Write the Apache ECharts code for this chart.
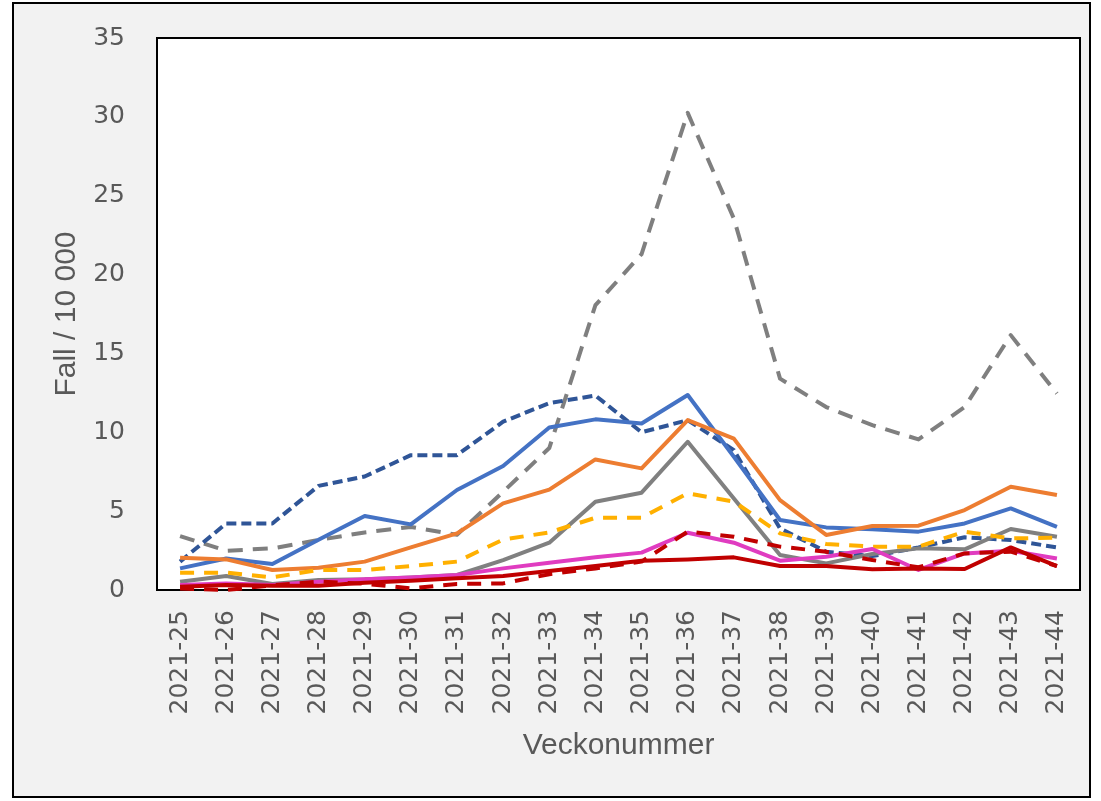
<!DOCTYPE html>
<html>
<head>
<meta charset="utf-8">
<script src="https://cdn.jsdelivr.net/npm/echarts@6/dist/echarts.min.js"></script>
<style>
html,body{margin:0;padding:0;background:#fff;}
#chart{width:1101px;height:801px;}
</style>
</head>
<body>
<div id="chart"></div>
<script>
const weeks = ['2021-25','2021-26','2021-27','2021-28','2021-29','2021-30','2021-31','2021-32','2021-33','2021-34','2021-35','2021-36','2021-37','2021-38','2021-39','2021-40','2021-41','2021-42','2021-43','2021-44'];
const yTicks = {min: 0, max: 35, interval: 5};

const blueSolid    = [1.37, 2.0, 1.65, 3.19, 4.69, 4.16, 6.34, 7.86, 10.3, 10.82, 10.56, 12.36, 8.45, 4.44, 3.97, 3.85, 3.7, 4.22, 5.17, 4.0];
const orangeSolid  = [2.05, 1.94, 1.27, 1.41, 1.8, 2.7, 3.59, 5.49, 6.36, 8.28, 7.71, 10.77, 9.6, 5.7, 3.49, 4.06, 4.08, 5.07, 6.55, 6.02];
const graySolid    = [0.53, 0.89, 0.38, 0.63, 0.68, 0.8, 0.95, 1.9, 3.0, 5.6, 6.17, 9.4, 5.8, 2.22, 1.69, 2.28, 2.64, 2.58, 3.87, 3.38];
const yellowDashed = [1.1, 1.1, 0.8, 1.27, 1.27, 1.52, 1.8, 3.2, 3.65, 4.58, 4.58, 6.13, 5.6, 3.59, 2.92, 2.75, 2.75, 3.7, 3.27, 3.32];
const navyDashed   = [1.8, 4.22, 4.22, 6.6, 7.2, 8.55, 8.55, 10.67, 11.85, 12.33, 10.0, 10.77, 8.87, 3.9, 2.43, 2.15, 2.7, 3.34, 3.17, 2.7];
const grayDashed   = [3.42, 2.49, 2.64, 3.17, 3.65, 4.0, 3.5, 6.23, 9.0, 18.06, 21.3, 30.25, 23.55, 13.4, 11.6, 10.45, 9.55, 11.6, 16.16, 12.46];
const magentaSolid = [0.32, 0.42, 0.32, 0.53, 0.68, 0.8, 0.95, 1.37, 1.73, 2.07, 2.37, 3.63, 3.0, 1.86, 2.11, 2.6, 1.27, 2.32, 2.49, 2.0];
const redSolid     = [0.21, 0.32, 0.27, 0.27, 0.46, 0.59, 0.74, 0.89, 1.2, 1.52, 1.86, 1.94, 2.07, 1.52, 1.52, 1.31, 1.37, 1.33, 2.7, 1.52];
const redDashed    = [0.1, 0.0, 0.3, 0.53, 0.4, 0.1, 0.38, 0.42, 1.0, 1.37, 1.8, 3.7, 3.38, 2.75, 2.43, 1.9, 1.44, 2.32, 2.43, 1.52];

function line(name, data, color, dash, width) {
  return {
    name: name, type: 'line', data: data, symbol: 'none', silent: true,
    lineStyle: {color: color, width: width || 4, type: dash || 'solid', cap: 'butt', join: 'round'},
    itemStyle: {color: color}
  };
}

const chart = echarts.init(document.getElementById('chart'), null, {renderer: 'canvas'});
chart.setOption({
  backgroundColor: '#ffffff',
  animation: false,
  graphic: [{
    type: 'rect', z: -10, silent: true,
    shape: {x: 13, y: 3, width: 1077, height: 794},
    style: {fill: '#f2f2f2', stroke: '#000', lineWidth: 2}
  }],
  grid: {left: 157, right: 21, top: 38, bottom: 211, show: true, backgroundColor: '#ffffff', borderColor: '#000', borderWidth: 2},
  xAxis: {
    type: 'category', data: weeks, boundaryGap: true,
    axisLine: {lineStyle: {color: '#000', width: 2}},
    axisTick: {show: false},
    axisLabel: {rotate: 90, margin: 20, fontSize: 25, color: '#595959', fontFamily: 'DejaVu Sans', interval: 0},
    splitLine: {show: false},
    name: 'Veckonummer', nameLocation: 'middle', nameGap: 141,
    nameTextStyle: {fontSize: 30, color: '#595959', fontFamily: 'Liberation Sans'}
  },
  yAxis: {
    type: 'value', min: yTicks.min, max: yTicks.max, interval: yTicks.interval,
    axisLine: {show: false}, axisTick: {show: false}, splitLine: {show: false},
    axisLabel: {margin: 32, fontSize: 25, color: '#595959', fontFamily: 'DejaVu Sans'},
    name: 'Fall / 10 000', nameLocation: 'middle', nameGap: 75, nameRotate: 90,
    nameTextStyle: {fontSize: 30, color: '#595959', fontFamily: 'Liberation Sans'}
  },
  series: [
    line('grayDashed', grayDashed, '#7f7f7f', [15, 10]),
    line('navyDashed', navyDashed, '#2f5597', [10, 5]),
    line('blueSolid', blueSolid, '#4472c4'),
    line('orangeSolid', orangeSolid, '#ed7d31'),
    line('graySolid', graySolid, '#808080'),
    line('yellowDashed', yellowDashed, '#ffb000', [14, 10]),
    line('magentaSolid', magentaSolid, '#e03cc0'),
    line('redDashed', redDashed, '#c00000', [14, 10]),
    line('redSolid', redSolid, '#c00000')
  ]
});
</script>
</body>
</html>
